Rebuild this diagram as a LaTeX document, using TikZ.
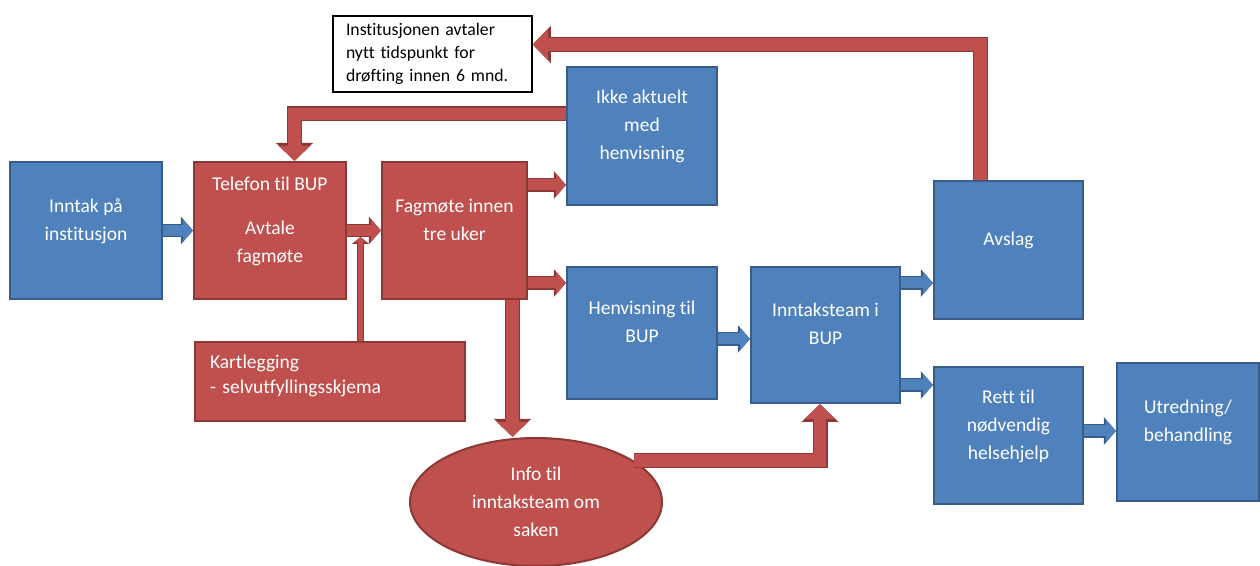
\documentclass[tikz,border=0pt]{standalone}
\usepackage{fontspec}
\setmainfont{Carlito}[Ligatures=NoCommon]
\usetikzlibrary{arrows.meta,shapes.geometric}
\definecolor{boxblue}{HTML}{4F81BD}
\definecolor{edgeblue}{HTML}{385D8A}
\definecolor{boxred}{HTML}{C0504D}
\definecolor{edgered}{HTML}{8C3836}
\begin{document}
\begin{tikzpicture}[x=0.5pt,y=-0.5pt,
 every node/.style={font=\fontsize{9.75}{14}\selectfont, text=white, align=center, inner sep=0pt},
 bluebox/.style={rectangle, fill=boxblue, draw=edgeblue, line width=1pt, minimum width=75pt, minimum height=68.5pt, text depth=11pt},
 redbox/.style={bluebox, fill=boxred, draw=edgered},
 bluearr/.style={draw=boxblue, line width=5.5pt, -{Triangle[length=0pt .9, width=0pt 2]}, preaction={draw=edgeblue, line width=6.75pt}},
 redarr/.style={draw=boxred, line width=5.5pt, -{Triangle[length=0pt .9, width=0pt 2]}, preaction={draw=edgered, line width=6.75pt}},
 redbig/.style={draw=boxred, line width=6.25pt, -{Triangle[length=0pt 1.2, width=0pt 2.4]}, preaction={draw=edgered, line width=7.5pt}},
 redthin/.style={draw=boxred, line width=2.5pt, -{Triangle[length=0pt 1, width=0pt 2.4]}, preaction={draw=edgered, line width=3.5pt}}]
 \useasboundingbox (0,0) rectangle (1260,566);

 \node (inntak) [bluebox, minimum width=76pt] at (86,230.5) {Inntak på\\institusjon};
 \node (telefon) [redbox, minimum width=76pt] at (270,230.5) {Telefon til BUP\\[8pt]Avtale\\fagmøte};
 \node (fagmote) [redbox, minimum width=72.5pt] at (454.5,230.5) {Fagmøte innen\\tre uker};
 \node (ikke) [bluebox, minimum height=69pt] at (642,136) {Ikke aktuelt\\med\\henvisning};
 \node (henv) [bluebox, minimum height=66pt] at (642,333) {Henvisning til\\BUP};
 \node (inntaksteam) [bluebox, minimum width=74.5pt, minimum height=68pt] at (825.5,335) {Inntaksteam i\\BUP};
 \node (avslag) [bluebox, minimum width=74.5pt, minimum height=69pt] at (1008.5,250) {Avslag};
 \node (rett) [bluebox, minimum width=74.5pt] at (1008.5,435.5) {Rett til\\nødvendig\\helsehjelp};
 \node (utredning) [bluebox, minimum width=71pt, minimum height=69pt] at (1188,432) {Utredning/\\behandling};
 \node (kart) [redbox, minimum width=135pt, minimum height=39.5pt, text width=120pt, align=left, text depth=20pt, font=\fontsize{9.75}{12.5}\selectfont] at (330,381.5) {Kartlegging\\- selvutfyllingsskjema};
 \node (info) [ellipse, fill=boxred, draw=edgered, line width=1pt, minimum width=126pt, minimum height=64pt] at (536,502) {Info til\\inntaksteam om\\saken};
 \node (note) [rectangle, fill=white, draw=black, line width=.75pt, minimum width=99.5pt, minimum height=38pt, text width=86.5pt, align=left, text=black, font=\fontsize{8.85}{11.5}\selectfont] at (432.5,54) {Institusjonen avtaler\\nytt tidspunkt for\\drøfting innen 6 mnd.};

 \coordinate (f1) at ([yshift=22.75pt]fagmote.east);
 \coordinate (f2) at ([yshift=-26.25pt]fagmote.east);
 \coordinate (f3) at ([xshift=29pt]fagmote.south);
 \coordinate (k1) at ([xshift=15.25pt]kart.north);
 \coordinate (k2) at ([yshift=-3.25pt]telefon.east);
 \coordinate (i1) at ([yshift=11pt]ikke.west);
 \coordinate (t1) at ([xshift=12.25pt]telefon.north);
 \coordinate (a1) at ([xshift=-14pt]avslag.north);
 \coordinate (n1) at ([yshift=4.75pt]note.east);
 \coordinate (s1) at ([xshift=-2.75pt]inntaksteam.south);
 \coordinate (h1) at ([yshift=-3pt]henv.east);
 \coordinate (b1) at ([yshift=26pt]inntaksteam.east);
 \coordinate (b2) at ([yshift=-25pt]inntaksteam.east);
 \coordinate (r1) at ([yshift=2.25pt]rett.east);

 \path (inntak) edge [bluearr] (telefon);
 \path (telefon) edge [redarr] (fagmote);
 \draw [redarr] (f1) -- (f1 -| ikke.west);
 \draw [redarr] (f2) -- (f2 -| henv.west);
 \draw [redbig] (f3) -- (f3 |- info.north);
 \draw [redthin] (k1) -- (k1 |- k2);
 \draw [redbig] (i1) -| (t1);
 \draw [redbig] (a1) |- (n1);
 \draw [redbig] (info.23) -| (s1);
 \draw [bluearr] (h1) -- (h1 -| inntaksteam.west);
 \draw [bluearr] (b1) -- (b1 -| avslag.west);
 \draw [bluearr] (b2) -- (b2 -| rett.west);
 \draw [bluearr] (r1) -- (r1 -| utredning.west);
\end{tikzpicture}
\end{document}
